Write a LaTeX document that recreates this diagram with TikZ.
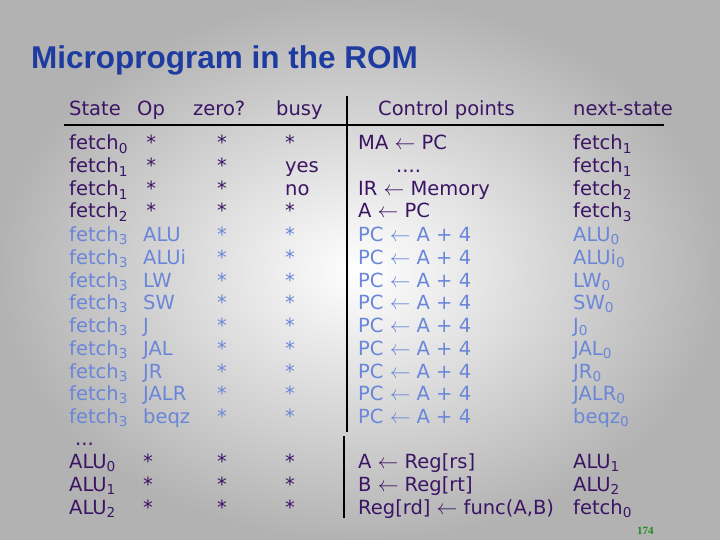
\documentclass[tikz,border=0pt]{standalone}
\usepackage{fontspec}
\setmainfont{DejaVu Sans}
\newfontfamily\titlefont{Liberation Sans}
\newfontfamily\numfont{Liberation Serif}
\definecolor{pur}{HTML}{3C1464}
\definecolor{lb}{HTML}{6A86D8}
\definecolor{tb}{HTML}{1E3CA0}
\definecolor{pg}{HTML}{1E8C1E}
\newcommand{\sub}[1]{\textsubscript{#1}}
\newcommand{\mrow}[9]{%
  \node[cell,text=#2] (s#9) at (69,#1) {#3};
  \node[cell,text=#2] (o#9) at (143,#1) {#4};
  \node[cell,text=#2] (z#9) at (217,#1) {#5};
  \node[cell,text=#2] (b#9) at (285,#1) {#6};
  \node[cell,text=#2] (c#9) at (358,#1) {#7};
  \node[cell,text=#2] (n#9) at (573,#1) {#8};}
\begin{document}
\begin{tikzpicture}[x=1pt,y=-1pt,
  cell/.style={anchor=base west,inner sep=0pt,font=\fontsize{19.5}{22}\selectfont},
  rule/.style={line width=2.2pt,black}]
\useasboundingbox (0,0) rectangle (720,540);
\shade[inner color=white,outer color=gray!60] (0,0) rectangle (720,540);
\node[anchor=base west,inner sep=0pt,text=tb,font=\titlefont\bfseries\fontsize{31.5}{34}\selectfont] (title) at (31,69) {Microprogram in the ROM};
% header
\node[cell,text=pur] (hs) at (69,116) {State};
\node[cell,text=pur] (ho) at (137,116) {Op};
\node[cell,text=pur] (hz) at (193,116) {zero?};
\node[cell,text=pur] (hb) at (276,116) {busy};
\node[cell,text=pur] (hc) at (378,116) {Control points};
\node[cell,text=pur] (hn) at (573,116) {next-state};
\coordinate (l1) at (64,125); \coordinate (l2) at (664,125);
\draw[rule] (l1) -- (l2);
\coordinate (v1) at (347,96); \coordinate (v2) at (347,432);
\coordinate (v3) at (344,436); \coordinate (v4) at (344,518);
\draw[rule] (v1) -- (v2);
\draw[rule] (v3) -- (v4);
\mrow{150}{pur}{fetch\sub{0}}{\,*}{*}{*}{MA $\leftarrow$ PC}{fetch\sub{1}}{1}
\mrow{173}{pur}{fetch\sub{1}}{\,*}{*}{yes}{\hspace{38pt}....}{fetch\sub{1}}{2}
\mrow{196}{pur}{fetch\sub{1}}{\,*}{*}{no}{IR $\leftarrow$ Memory}{fetch\sub{2}}{3}
\mrow{218}{pur}{fetch\sub{2}}{\,*}{*}{*}{A $\leftarrow$ PC}{fetch\sub{3}}{4}
\mrow{241}{lb}{fetch\sub{3}}{ALU}{*}{*}{PC $\leftarrow$ A + 4}{ALU\sub{0}}{5}
\mrow{264}{lb}{fetch\sub{3}}{ALUi}{*}{*}{PC $\leftarrow$ A + 4}{ALUi\sub{0}}{6}
\mrow{287}{lb}{fetch\sub{3}}{LW}{*}{*}{PC $\leftarrow$ A + 4}{LW\sub{0}}{7}
\mrow{309}{lb}{fetch\sub{3}}{SW}{*}{*}{PC $\leftarrow$ A + 4}{SW\sub{0}}{8}
\mrow{332}{lb}{fetch\sub{3}}{J}{*}{*}{PC $\leftarrow$ A + 4}{J\sub{0}}{9}
\mrow{355}{lb}{fetch\sub{3}}{JAL}{*}{*}{PC $\leftarrow$ A + 4}{JAL\sub{0}}{10}
\mrow{378}{lb}{fetch\sub{3}}{JR}{*}{*}{PC $\leftarrow$ A + 4}{JR\sub{0}}{11}
\mrow{400}{lb}{fetch\sub{3}}{JALR}{*}{*}{PC $\leftarrow$ A + 4}{JALR\sub{0}}{12}
\mrow{423}{lb}{fetch\sub{3}}{beqz}{*}{*}{PC $\leftarrow$ A + 4}{beqz\sub{0}}{13}
\node[cell,text=pur] (dots) at (75,445) {...};
\mrow{468}{pur}{ALU\sub{0}}{*}{*}{*}{A $\leftarrow$ Reg[rs]}{ALU\sub{1}}{14}
\mrow{491}{pur}{ALU\sub{1}}{*}{*}{*}{B $\leftarrow$ Reg[rt]}{ALU\sub{2}}{15}
\mrow{514}{pur}{ALU\sub{2}}{*}{*}{*}{Reg[rd] $\leftarrow$ func(A,B)}{fetch\sub{0}}{16}
\node[anchor=base west,inner sep=0pt,text=pg,font=\numfont\bfseries\fontsize{11}{12}\selectfont] (pgn) at (637,534) {174};
\end{tikzpicture}
\end{document}
